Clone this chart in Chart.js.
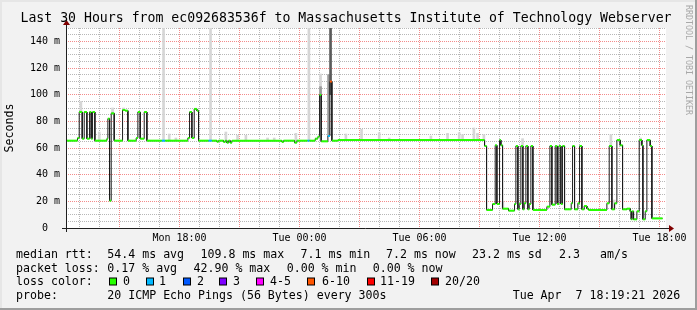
<!DOCTYPE html>
<html>
<head>
<meta charset="utf-8">
<script src="https://cdn.jsdelivr.net/npm/chart.js@4/dist/chart.umd.min.js"></script>
<style>
  html, body { margin: 0; padding: 0; background: #f2f2f2; }
  canvas { display: block; }
</style>
</head>
<body>
<canvas id="ping" width="697" height="310"></canvas>
<script>
// time is in minutes after Mon 00:00, rtt in ms
const viewStart = 739.35;   // Mon 12:19:21
const viewEnd = 2539.35;    // Tue 18:19:21
const dataEnd = 2529;

// median rtt, one step per run: run i lasts from runStart[i] to runStart[i + 1]
const runStart = [
  740, 774, 779, 788, 794, 802, 810, 815, 819, 826,
  862, 865, 870, 875, 884, 909, 917, 925, 950, 955,
  962, 974, 982, 1027, 1037, 1105, 1110, 1117, 1124, 1132,
  1137, 1167, 1177, 1192, 1197, 1212, 1217, 1222, 1227, 1232,
  1237, 1387, 1392, 1425, 1432, 1464, 1470, 1487, 1495, 1500,
  1505, 1525, 1531, 1537, 1555, 1995, 2001, 2019, 2027, 2032,
  2040, 2044, 2049, 2067, 2085, 2089, 2095, 2099, 2104, 2110,
  2114, 2119, 2125, 2129, 2134, 2140, 2182, 2191, 2197, 2207,
  2213, 2218, 2224, 2229, 2235, 2255, 2259, 2265, 2275, 2280,
  2287, 2294, 2302, 2307, 2362, 2369, 2377, 2385, 2392, 2402,
  2409, 2422, 2432, 2435, 2438, 2442, 2452, 2459, 2467, 2470,
  2477, 2482, 2492, 2497
];
const runMedian = [
  65.5, 67.5, 87, 67, 87, 67, 87, 67, 87, 65.5,
  67, 82, 20.5, 86, 65.5, 88.5, 88, 65.5, 67.5, 87,
  67, 87, 65.5, 65.5, 65.5, 67.5, 87, 67.5, 89.3, 88,
  65.5, 65.5, 65.5, 64.7, 65.5, 64.5, 65.5, 64, 65.5, 64,
  65.5, 64.5, 65.5, 64, 65.5, 65.5, 65.5, 67, 68.5, 99.8,
  65, 69, 109.8, 65.5, 66, 61.5, 13.5, 18, 62, 18,
  66, 62, 14.5, 13, 18, 61.5, 14, 18, 61.5, 14,
  18.5, 61.5, 14, 18, 61.5, 13.5, 16, 61.5, 17.5, 61.5,
  18, 61.5, 18, 61.5, 14, 18.5, 61.5, 14, 18.5, 61.5,
  14, 16.5, 14.5, 13.5, 18.5, 61.5, 14, 18.5, 66, 62,
  14, 14.5, 12.5, 6.5, 12.5, 6.5, 12.5, 66, 62, 6.5,
  12.5, 66, 61.5, 7.2
];

// runs with packet loss (all other runs are loss class 0)
const lossTimes = [1027, 1167, 1464, 1525, 1531];
const lossClass = [1, 1, 1, 1, 5];

const lossLabels = ['0', '1', '2', '3', '4-5', '6-10', '11-19', '20/20'];
const lossColors = ['#26ff00', '#00b8ff', '#0059ff', '#7e00ff', '#ff00ff', '#ff5500', '#ff0000', '#a10000'];

// smoke: spread of the single pings, shade 0 light .. 2 dark
const smokeTime = [
  784, 839, 879, 912, 1032, 1049, 1069, 1173, 1219, 1254,
  1279, 1344, 1364, 1429, 1468, 1503, 1579, 1626, 1679, 1709,
  1834, 1884, 1919, 1929, 1963, 1974, 1993, 2050, 2109, 2374,
  2384, 2463, 1503, 1527, 1533
];
const smokeLow = [
  87, 65.5, 86, 88.5, 65.5, 65.5, 65.5, 65.5, 64.5, 65.5,
  65.5, 65.5, 65.5, 64, 65.5, 66, 66, 66, 66, 66,
  66, 66, 66, 66, 66, 66, 66, 14, 61.5, 61.5,
  14, 62, 99, 69, 100
];
const smokeHigh = [
  95, 72, 90, 90, 150, 70.5, 67.5, 150, 72, 69.5,
  69.5, 67.5, 67.5, 71, 150, 115.5, 70.5, 74, 71.5, 67.5,
  69, 71, 71.5, 70, 75, 71, 70, 20, 67, 70,
  21, 67.5, 106, 115, 150
];
const smokeShade = [
  0, 0, 0, 0, 0, 0, 0, 0, 0, 0,
  0, 0, 0, 0, 0, 0, 0, 0, 0, 0,
  0, 0, 0, 0, 0, 0, 0, 0, 0, 0,
  0, 0, 1, 1, 2
];

const xLabelAt = [1080, 1440, 1800, 2160, 2520];
const xLabels = ['Mon 18:00', 'Tue 00:00', 'Tue 06:00', 'Tue 12:00', 'Tue 18:00'];

const MONO = 'DejaVu Sans Mono';
Chart.defaults.font.family = MONO;
Chart.defaults.color = '#000';

function runEnd(i) {
  return i + 1 < runStart.length ? runStart[i + 1] : dataEnd;
}
function lossOf(i) {
  const k = lossTimes.indexOf(runStart[i]);
  return k < 0 ? 0 : lossClass[k];
}

// green band pieces (broken between runs) and the thin black step line
const bandPoints = [];
const linePoints = [];
runStart.forEach((t, i) => {
  const v = runMedian[i];
  const e = runEnd(i);
  bandPoints.push({ x: t, y: v }, { x: e, y: v }, { x: e, y: null });
  linePoints.push({ x: t, y: v }, { x: e, y: v });
});

const smokeColors = ['#d6d6d6', '#9a9a9a', '#5a5a5a'];
const smokeSets = smokeColors.map((color, s) => ({
  type: 'bar',
  data: smokeTime
    .map((t, i) => ({ x: t, y: [smokeLow[i], smokeHigh[i]], shade: smokeShade[i] }))
    .filter(p => p.shade === s),
  backgroundColor: color,
  borderWidth: 0,
  barThickness: 2,
  grouped: false,
  order: 5 - s
}));

// grid ticks: every hour / every 5 ms
const hourTicks = [];
for (let m = 780; m <= 2520; m += 60) hourTicks.push({ value: m });
const msTicks = [];
for (let v = 0; v <= 150; v += 5) msTicks.push({ value: v });

const minorGrid = 'rgba(165,165,165,0.8)';
const majorGrid = 'rgba(240,110,110,0.8)';

const backdrop = {
  id: 'backdrop',
  beforeDraw(chart) {
    const { ctx, chartArea: a } = chart;
    ctx.save();
    ctx.fillStyle = '#f2f2f2';
    ctx.fillRect(0, 0, 697, 310);
    ctx.fillStyle = '#e6e6e6';
    ctx.fillRect(0, 0, 697, 2);
    ctx.fillRect(0, 0, 2, 310);
    ctx.fillStyle = '#9e9e9e';
    ctx.fillRect(0, 308, 697, 2);
    ctx.fillRect(695, 0, 2, 310);
    ctx.fillStyle = '#ffffff';
    ctx.fillRect(a.left, a.top, a.right - a.left, a.bottom - a.top);
    ctx.restore();
  }
};

const axes = {
  id: 'axes',
  afterDatasetsDraw(chart) {
    const { ctx, chartArea: a } = chart;
    const bx = a.left + 0.5, by = a.bottom + 0.5;
    ctx.save();
    ctx.strokeStyle = '#1f1f1f';
    ctx.lineWidth = 1;
    ctx.beginPath();
    ctx.moveTo(a.left - 4, by);
    ctx.lineTo(a.right + 3, by);
    ctx.moveTo(bx, a.bottom + 4);
    ctx.lineTo(bx, a.top - 3);
    ctx.stroke();
    ctx.fillStyle = '#800000';
    ctx.beginPath();
    ctx.moveTo(a.right + 3, by - 3.5);
    ctx.lineTo(a.right + 8, by);
    ctx.lineTo(a.right + 3, by + 3.5);
    ctx.closePath();
    ctx.fill();
    ctx.beginPath();
    ctx.moveTo(bx - 3.5, a.top - 3);
    ctx.lineTo(bx, a.top - 8);
    ctx.lineTo(bx + 3.5, a.top - 3);
    ctx.closePath();
    ctx.fill();
    ctx.restore();
  }
};

const legendRows = [
  [254.5, [[16, 'median rtt:'], [107.3, '54.4 ms avg'], [200.5, '109.8 ms max'], [300.5, '7.1 ms min'],
           [386, '7.2 ms now'], [472, '23.2 ms sd'], [559, '2.3'], [600, 'am/s']]],
  [268.5, [[16, 'packet loss:'], [107.3, '0.17 % avg'], [193.5, '42.90 % max'], [286.7, '0.00 % min'],
           [372.7, '0.00 % now']]],
  [282.3, [[16, 'loss color:']]],
  [296, [[16, 'probe:'], [107.3, '20 ICMP Echo Pings (56 Bytes) every 300s'], [512.7, 'Tue Apr  7 18:19:21 2026']]]
];
const swatchX = [109, 146, 183, 219, 256, 307, 367, 431];
const swatchLabelX = [123, 159, 197, 233, 270, 322, 380, 445];

const texts = {
  id: 'texts',
  afterDraw(chart) {
    const ctx = chart.ctx;
    ctx.save();
    ctx.textBaseline = 'middle';
    ctx.fillStyle = '#000';
    ctx.textAlign = 'center';
    ctx.font = '13.2px "' + MONO + '"';
    ctx.fillText('Last 30 Hours from ec092683536f to Massachusetts Institute of Technology Webserver', 346, 18.5);

    ctx.textAlign = 'left';
    ctx.font = '11.6px "' + MONO + '"';
    legendRows.forEach(([y, items]) => {
      items.forEach(([x, t]) => ctx.fillText(t, x, y));
    });
    lossLabels.forEach((lab, i) => {
      ctx.fillStyle = '#000';
      ctx.fillRect(swatchX[i], 277.5, 8, 8);
      ctx.fillStyle = lossColors[i];
      ctx.fillRect(swatchX[i] + 1, 278.5, 6, 6);
      ctx.fillStyle = '#000';
      ctx.fillText(lab, swatchLabelX[i], 282.3);
    });

    ctx.translate(688, 5);
    ctx.rotate(Math.PI / 2);
    ctx.font = '8.3px "' + MONO + '"';
    ctx.fillStyle = '#a8a8a8';
    ctx.fillText('RRDTOOL / TOBI OETIKER', 0, 0);
    ctx.restore();
  }
};

new Chart(document.getElementById('ping'), {
  type: 'line',
  data: {
    datasets: [
      {
        type: 'line',
        data: bandPoints,
        borderWidth: 2,
        borderColor: lossColors[0],
        borderCapStyle: 'butt',
        segment: { borderColor: ctx => lossColors[lossOf(Math.floor(ctx.p0DataIndex / 3))] },
        pointRadius: 0,
        spanGaps: false,
        tension: 0,
        order: 0
      },
      {
        type: 'line',
        data: linePoints,
        borderWidth: 1,
        borderColor: '#1c1c1c',
        pointRadius: 0,
        tension: 0,
        order: 1
      },
      ...smokeSets
    ]
  },
  options: {
    responsive: false,
    devicePixelRatio: 1,
    animation: false,
    events: [],
    layout: { autoPadding: false, padding: { top: 28, right: 31, bottom: 0, left: 0 } },
    plugins: { legend: { display: false }, tooltip: { enabled: false }, title: { display: false } },
    scales: {
      x: {
        type: 'linear',
        min: viewStart,
        max: viewEnd,
        offset: false,
        afterBuildTicks: s => { s.ticks = hourTicks.map(t => ({ value: t.value })); },
        afterFit: s => { s.height = 82; },
        grid: {
          offset: false,
          drawTicks: false,
          lineWidth: 1,
          color: c => (c.tick && c.tick.value % 180 === 0 ? majorGrid : minorGrid)
        },
        border: { display: false, dash: [1, 1] },
        ticks: {
          autoSkip: false,
          maxRotation: 0,
          padding: 4,
          font: { size: 10, family: MONO },
          color: '#000',
          callback: v => {
            const k = xLabelAt.indexOf(v);
            return k < 0 ? '' : xLabels[k];
          }
        }
      },
      y: {
        type: 'linear',
        min: 0,
        max: 150,
        afterBuildTicks: s => { s.ticks = msTicks.map(t => ({ value: t.value })); },
        afterFit: s => { s.width = 66; },
        grid: {
          drawTicks: false,
          lineWidth: 1,
          color: c => (c.tick && c.tick.value % 20 === 0 ? majorGrid : minorGrid)
        },
        border: { display: false, dash: [1, 1] },
        title: {
          display: true,
          text: 'Seconds',
          font: { size: 11.6, family: MONO },
          color: '#000',
          padding: { top: 3, bottom: 0 }
        },
        ticks: {
          autoSkip: false,
          padding: 6,
          font: { size: 10, family: MONO },
          color: '#000',
          callback: v => (v % 20 !== 0 ? '' : v === 0 ? '0  ' : v + ' m')
        }
      }
    }
  },
  plugins: [backdrop, axes, texts]
});
</script>
</body>
</html>
